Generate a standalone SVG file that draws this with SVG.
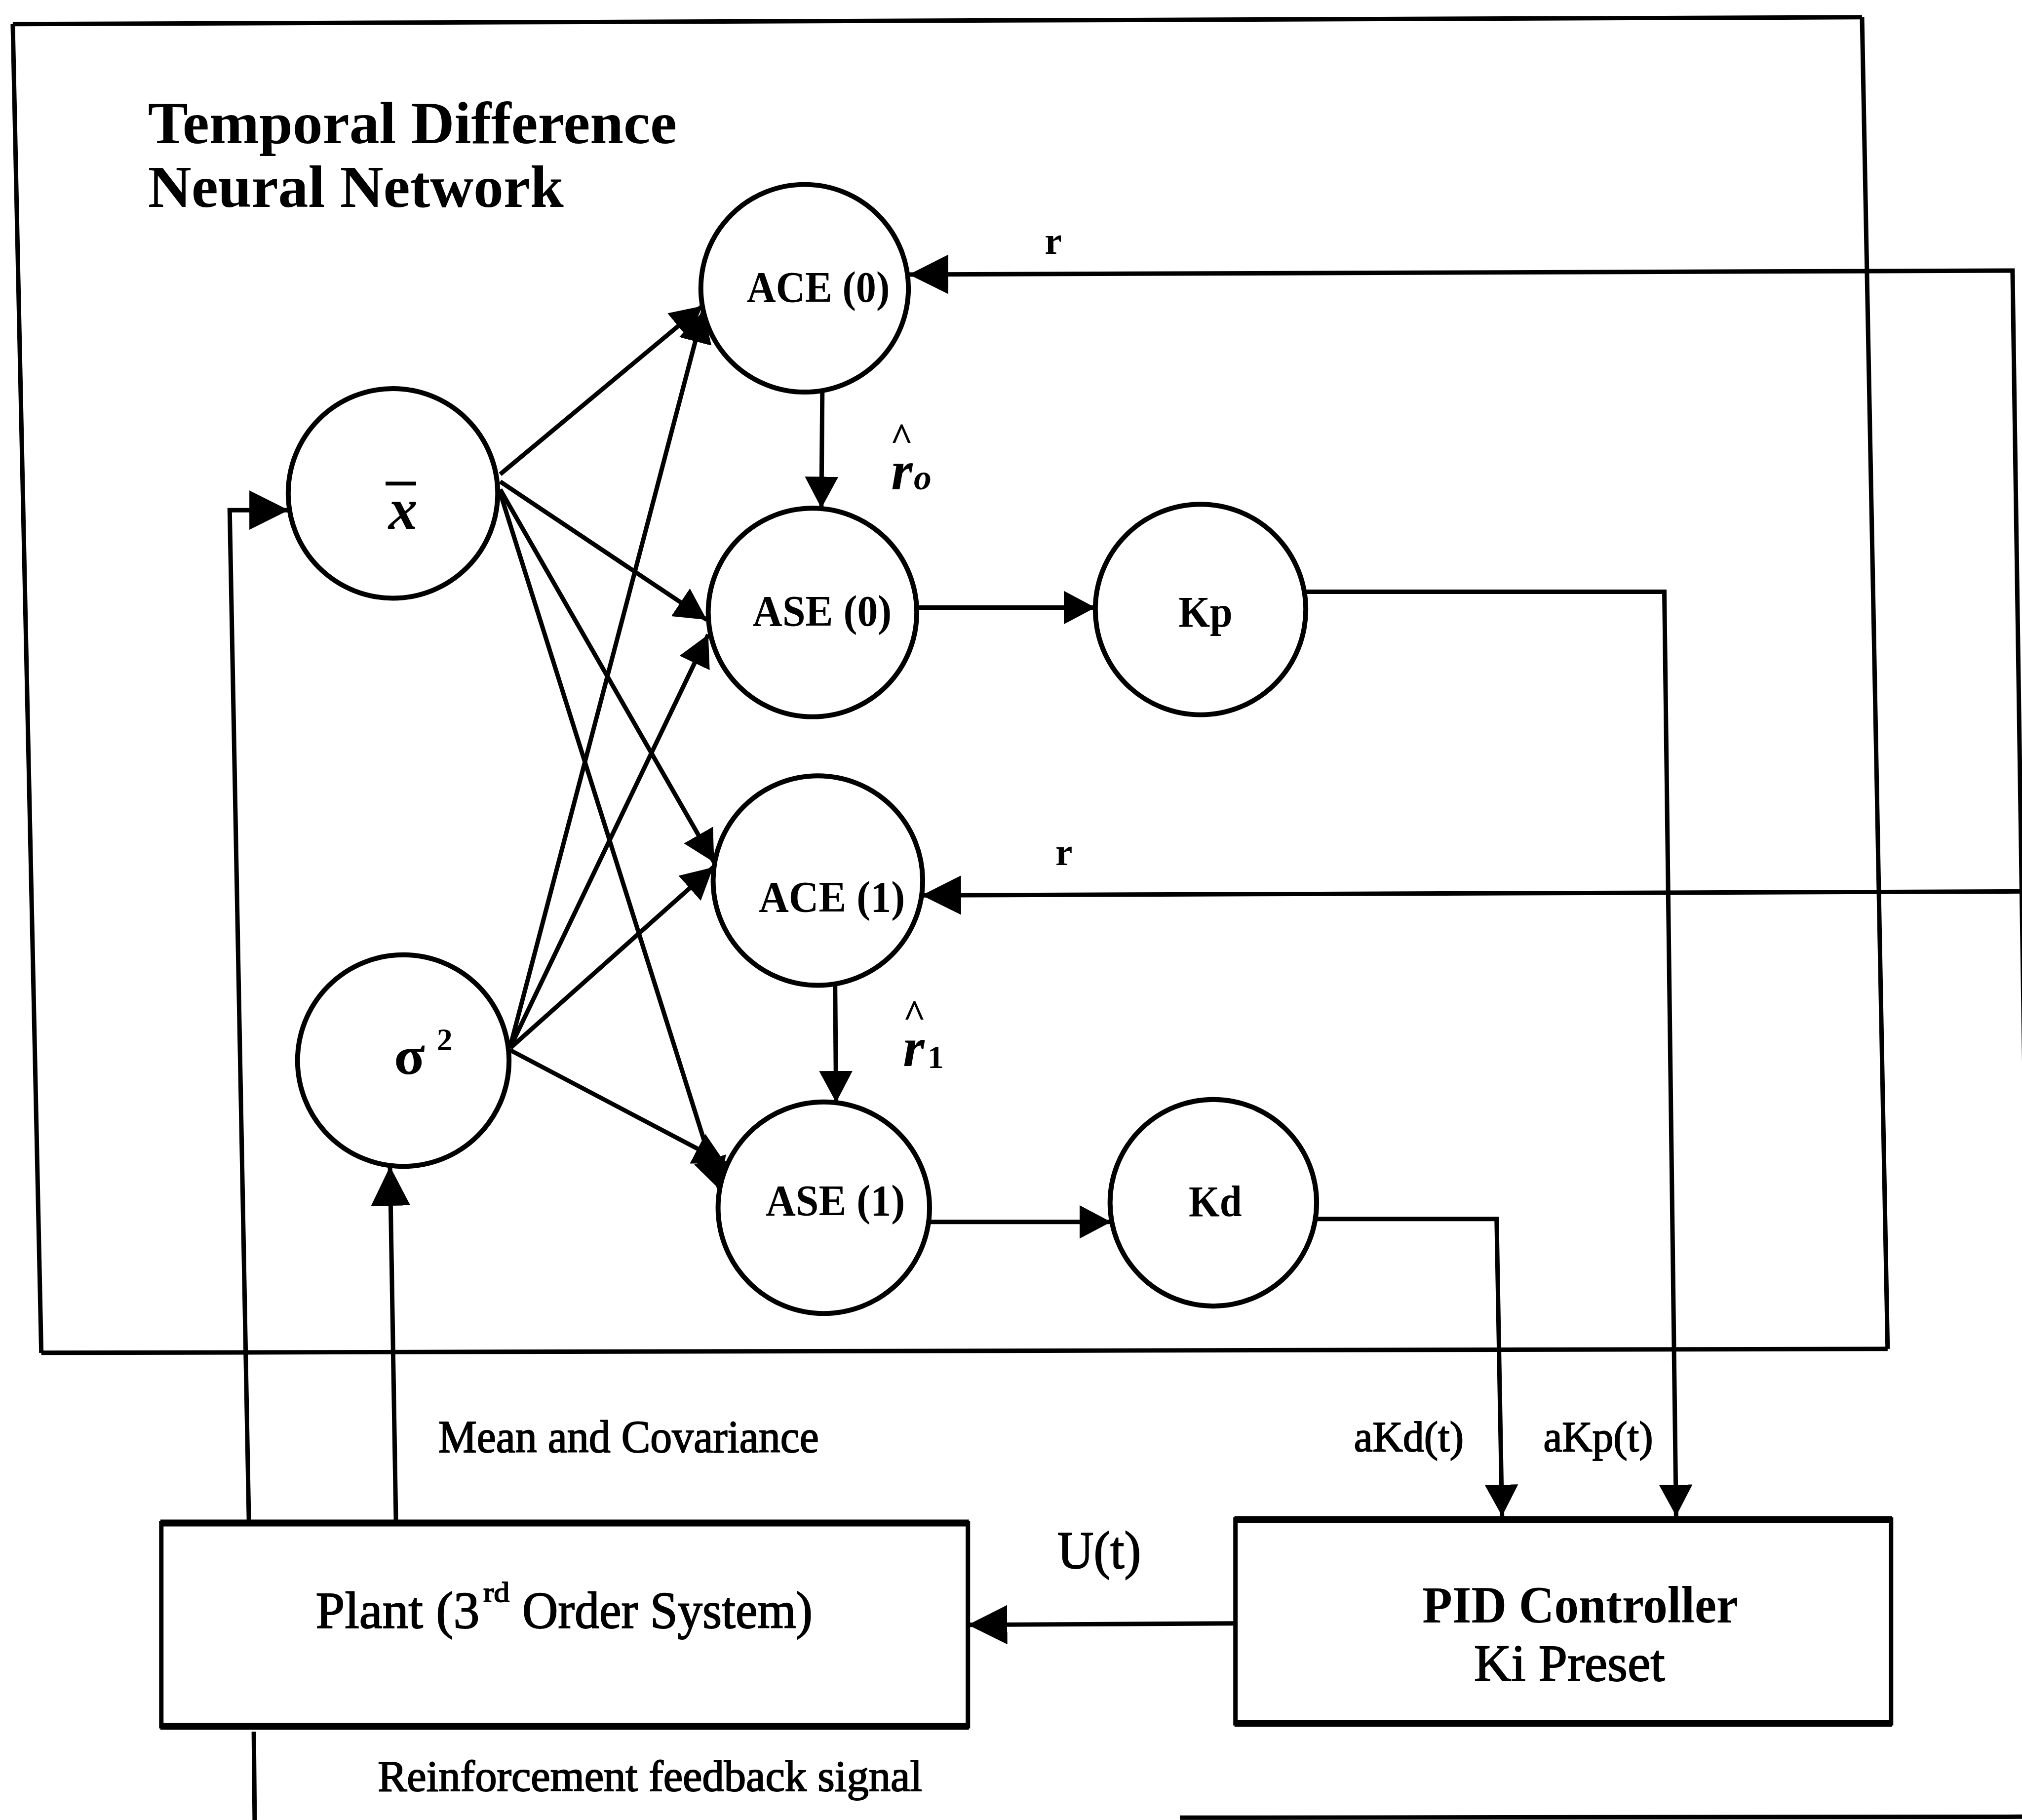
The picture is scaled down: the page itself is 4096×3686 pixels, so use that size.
<svg xmlns="http://www.w3.org/2000/svg" width="4096" height="3686" viewBox="0 0 4096 3686">
<defs>
<style>
.n{fill:#fff;stroke:#000;stroke-width:10}
.e{fill:none;stroke:#000;stroke-width:9}
.bx{fill:#fff;stroke:#000;stroke-width:9}
.thk{fill:none;stroke:#000;stroke-width:14}
.t{font-family:"Liberation Serif","Times New Roman",serif;fill:#000}
.b{font-weight:bold}
.i{font-style:italic}
.h{stroke:#000;stroke-width:2}
</style>
<marker id="ah" markerUnits="userSpaceOnUse" viewBox="0 0 66 68" markerWidth="66" markerHeight="68" refX="64" refY="34" orient="auto"><path d="M0,0 L64,34 L0,68 z" fill="#000"/></marker>
<marker id="AH" markerUnits="userSpaceOnUse" viewBox="0 0 82 82" markerWidth="82" markerHeight="82" refX="80" refY="40" orient="auto"><path d="M0,0 L80,40 L0,80 z" fill="#000"/></marker>
</defs>
<rect x="0" y="0" width="4096" height="3686" fill="#fff"/>
<g transform="scale(0.9963)">
<g id="frame">
<path d="M26,49 L3786,35" class="e" stroke-width="12"/>
<path d="M26,49 L84,2750" class="e" stroke-width="5"/>
<path d="M84,2750 L3838,2742" class="e" stroke-width="10"/>
<path d="M3786,35 L3838,2742" class="e" stroke-width="7"/>
<text class="t b" x="301" y="291" font-size="122" textLength="1075" lengthAdjust="spacingAndGlyphs">Temporal  Difference</text>
<text class="t b" x="301" y="421" font-size="122" textLength="845" lengthAdjust="spacingAndGlyphs">Neural  Network</text>
</g>
<g id="node-xbar">
<circle class="n" cx="799" cy="1003" r="213"/>
<line x1="784" y1="983" x2="846" y2="983" stroke="#000" stroke-width="8"/>
<text class="t b i" x="790" y="1075" font-size="118">x</text>
</g>
<g id="node-sigma2">
<circle class="n" cx="820" cy="2156" r="215"/>
<text class="t b" x="801" y="2183" font-size="110"><tspan textLength="63" lengthAdjust="spacingAndGlyphs">σ</tspan><tspan x="888" y="2135" font-size="64">2</tspan></text>
</g>
<g id="node-ace0">
<circle class="n" cx="1636" cy="586" r="211"/>
<text class="t b" x="1518" y="613" font-size="90" textLength="291" lengthAdjust="spacingAndGlyphs">ACE (0)</text>
</g>
<g id="node-ase0">
<circle class="n" cx="1652" cy="1245" r="212"/>
<text class="t b" x="1530" y="1272" font-size="90" textLength="283" lengthAdjust="spacingAndGlyphs">ASE (0)</text>
</g>
<g id="node-ace1">
<circle class="n" cx="1663" cy="1790" r="213"/>
<text class="t b" x="1543" y="1853" font-size="90" textLength="297" lengthAdjust="spacingAndGlyphs">ACE (1)</text>
</g>
<g id="node-ase1">
<circle class="n" cx="1675" cy="2455" r="215"/>
<text class="t b" x="1557" y="2470" font-size="90" textLength="283" lengthAdjust="spacingAndGlyphs">ASE (1)</text>
</g>
<g id="node-kp">
<circle class="n" cx="2441" cy="1239" r="214"/>
<text class="t b" x="2396" y="1274" font-size="90" textLength="110" lengthAdjust="spacingAndGlyphs">Kp</text>
</g>
<g id="node-kd">
<circle class="n" cx="2467" cy="2445" r="210"/>
<text class="t b" x="2417" y="2472" font-size="90" textLength="108" lengthAdjust="spacingAndGlyphs">Kd</text>
</g>
<g id="node-plant">
<rect class="bx" x="328" y="3096" width="1640" height="413"/>
<line class="thk" x1="326" y1="3096" x2="1970" y2="3096"/>
<line class="thk" x1="326" y1="3509" x2="1970" y2="3509"/>
<text class="t h" x="642" y="3309" font-size="106"><tspan textLength="333" lengthAdjust="spacingAndGlyphs">Plant (3</tspan><tspan x="983" y="3256" font-size="58" textLength="53" lengthAdjust="spacingAndGlyphs">rd</tspan><tspan x="1062" y="3309" textLength="590" lengthAdjust="spacingAndGlyphs">Order System)</tspan></text>
</g>
<g id="node-pid">
<rect class="bx" x="2512" y="3089" width="1333" height="414"/>
<line class="thk" x1="2510" y1="3089" x2="3847" y2="3089"/>
<line class="thk" x1="2510" y1="3503" x2="3847" y2="3503"/>
<text class="t b" x="2892" y="3298" font-size="106" textLength="642" lengthAdjust="spacingAndGlyphs">PID Controller</text>
<text class="t h" x="2997" y="3417" font-size="106" textLength="388" lengthAdjust="spacingAndGlyphs">Ki  Preset</text>
</g>
<g id="connectors">
<path class="e" d="M1017,964 L1428,622" marker-end="url(#ah)"/>
<path class="e" d="M1017,979 L1437,1260" marker-end="url(#ah)"/>
<path class="e" d="M1017,995 L1452,1753" marker-end="url(#ah)"/>
<path class="e" d="M1017,1002 L1463,2418" marker-end="url(#ah)"/>
<path class="e" d="M1038,2125 L1430,632" marker-end="url(#ah)"/>
<path class="e" d="M1038,2128 L1440,1290" marker-end="url(#ah)"/>
<path class="e" d="M1038,2130 L1450,1763" marker-end="url(#ah)"/>
<path class="e" d="M1038,2135 L1475,2365" marker-end="url(#ah)"/>
<path class="e" d="M1672,797 L1670,1033" marker-end="url(#ah)"/>
<path class="e" d="M1698,2003 L1700,2241" marker-end="url(#ah)"/>
<path class="e" d="M1863,1235 L2227,1235" marker-end="url(#ah)"/>
<path class="e" d="M1888,2484 L2259,2484" marker-end="url(#ah)"/>
<path class="e" d="M2655,1203 L3384,1203 L3408,3082" marker-end="url(#ah)"/>
<path class="e" d="M2674,2478 L3043,2478 L3054,3082" marker-end="url(#ah)"/>
<path class="e" stroke-width="12" d="M4116,2180 L4092,550 L1848,558" marker-end="url(#AH)"/>
<path class="e" d="M4130,1812 L1874,1820" marker-end="url(#AH)"/>
<path class="e" stroke-width="10" d="M2512,3300 L1968,3303" marker-end="url(#AH)"/>
<path class="e" d="M506,3090 L467,1037 L587,1037" marker-end="url(#AH)"/>
<path class="e" d="M805,3090 L793,2371" marker-end="url(#AH)"/>
<path class="e" d="M516,3520 L518,3720"/>
<path class="e" d="M2399,3695 L4130,3693"/>
</g>
<g id="labels">
<text class="t b" x="2124" y="516" font-size="78">r</text>
<text class="t b" x="2146" y="1759" font-size="78">r</text>
<text class="t b" x="1810" y="915" font-size="80">^<tspan class="i" x="1812" y="995" font-size="112">r</tspan><tspan class="i" x="1858" y="995" font-size="72">o</tspan></text>
<text class="t b" x="1836" y="2088" font-size="80">^<tspan class="i" x="1836" y="2167" font-size="112">r</tspan><tspan x="1886" y="2171" font-size="66">1</tspan></text>
<text class="t h" x="891" y="2952" font-size="94" textLength="774" lengthAdjust="spacingAndGlyphs">Mean  and  Covariance</text>
<text class="t h" x="2753" y="2950" font-size="88" textLength="223" lengthAdjust="spacingAndGlyphs">aKd(t)</text>
<text class="t h" x="3138" y="2950" font-size="88" textLength="223" lengthAdjust="spacingAndGlyphs">aKp(t)</text>
<text class="t h" x="2150" y="3188" font-size="108" textLength="170" lengthAdjust="spacingAndGlyphs">U(t)</text>
<text class="t h" x="768" y="3640" font-size="90" textLength="1107" lengthAdjust="spacingAndGlyphs">Reinforcement  feedback  signal</text>
</g>
</g>
</svg>
